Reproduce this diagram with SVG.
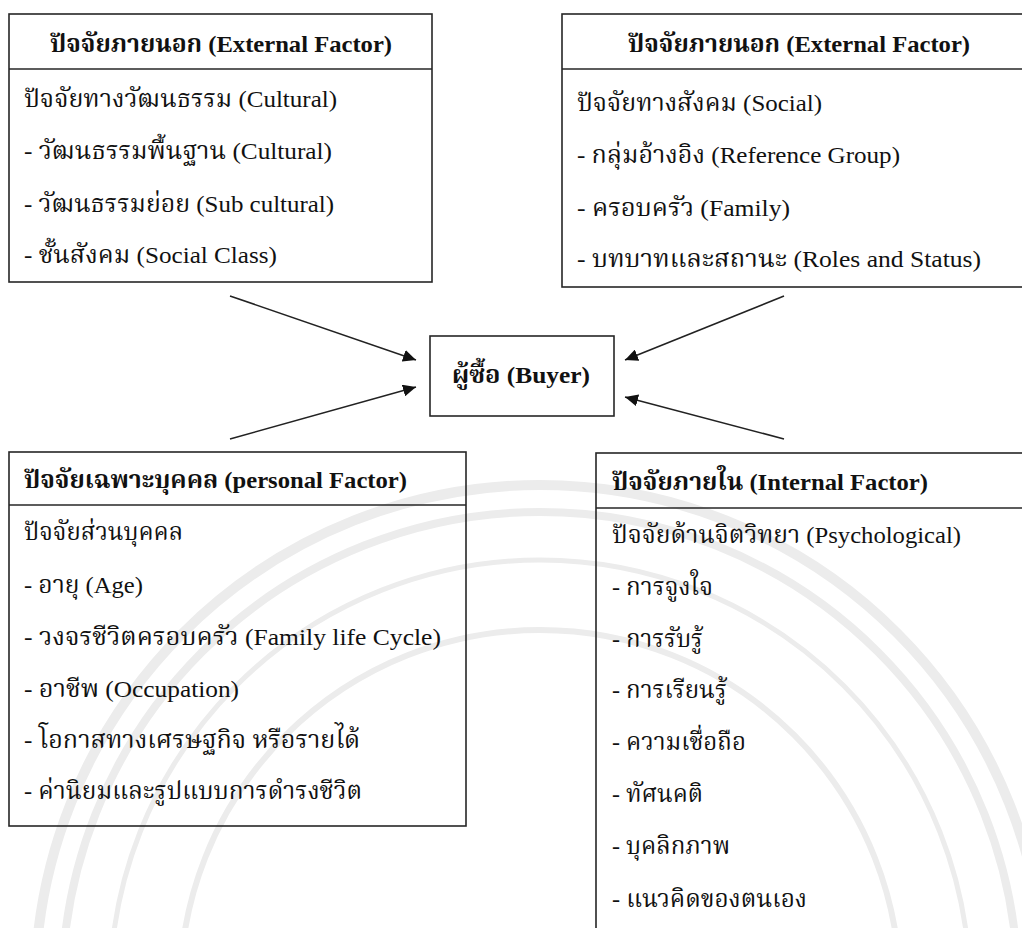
<svg xmlns="http://www.w3.org/2000/svg" width="1022" height="928" viewBox="0 0 1022 928">
<defs>
<style>
.box{fill:none;stroke:#262626;stroke-width:1.6}
.bg{fill:#ffffff}
.t{font-family:"Liberation Serif","Noto Serif Thai","Noto Sans Thai","Tlwg Typo",serif;font-size:24px;fill:#111}
.b{font-weight:bold}
.c{text-anchor:middle}
.wm{fill:none;stroke:#ececec}
.ln{stroke:#222;stroke-width:1.6;fill:none}
</style>
<marker id="ah" viewBox="0 0 10 10" refX="10" refY="5" markerWidth="13" markerHeight="12" markerUnits="userSpaceOnUse" orient="auto" preserveAspectRatio="none">
<path d="M0,0 L10,5 L0,10 z" fill="#111"/>
</marker>
</defs>
<rect x="0" y="0" width="1022" height="928" fill="#ffffff"/>
<g id="watermark">
<circle class="wm" cx="540" cy="990" r="505" stroke-width="10"/>
<circle class="wm" cx="540" cy="990" r="478" stroke-width="8"/>
<circle class="wm" cx="540" cy="990" r="430" stroke-width="5"/>
<circle class="wm" cx="540" cy="990" r="360" stroke-width="6"/>
</g>
<g id="connectors">
<line class="ln" x1="230" y1="296" x2="416" y2="360" marker-end="url(#ah)"/>
<line class="ln" x1="230" y1="439" x2="416" y2="387" marker-end="url(#ah)"/>
<line class="ln" x1="784" y1="296" x2="625" y2="360" marker-end="url(#ah)"/>
<line class="ln" x1="784" y1="439" x2="625" y2="397" marker-end="url(#ah)"/>
</g>
<g id="external-cultural">
<rect class="bg box" x="9" y="14" width="423" height="268"/>
<line class="box" x1="9" y1="69" x2="432" y2="69"/>
<text class="t b c" x="221" y="52" textLength="342" lengthAdjust="spacingAndGlyphs">ปัจจัยภายนอก (External Factor)</text>
<text class="t" x="24" y="107" textLength="313" lengthAdjust="spacingAndGlyphs">ปัจจัยทางวัฒนธรรม  (Cultural)</text>
<text class="t" x="24" y="159" textLength="308" lengthAdjust="spacingAndGlyphs">- วัฒนธรรมพื้นฐาน (Cultural)</text>
<text class="t" x="24" y="212" textLength="310" lengthAdjust="spacingAndGlyphs">- วัฒนธรรมย่อย (Sub cultural)</text>
<text class="t" x="24" y="263" textLength="253" lengthAdjust="spacingAndGlyphs">- ชั้นสังคม (Social Class)</text>
</g>
<g id="external-social">
<rect class="bg box" x="562" y="14" width="480" height="273"/>
<line class="box" x1="562" y1="69" x2="1042" y2="69"/>
<text class="t b c" x="799" y="52" textLength="342" lengthAdjust="spacingAndGlyphs">ปัจจัยภายนอก (External Factor)</text>
<text class="t" x="577" y="111" textLength="245" lengthAdjust="spacingAndGlyphs">ปัจจัยทางสังคม  (Social)</text>
<text class="t" x="577" y="163" textLength="323" lengthAdjust="spacingAndGlyphs">- กลุ่มอ้างอิง (Reference Group)</text>
<text class="t" x="577" y="216" textLength="213" lengthAdjust="spacingAndGlyphs">- ครอบครัว  (Family)</text>
<text class="t" x="577" y="267" textLength="404" lengthAdjust="spacingAndGlyphs">- บทบาทและสถานะ  (Roles and Status)</text>
</g>
<g id="buyer">
<rect class="bg box" x="430" y="336" width="184" height="80"/>
<text class="t b c" x="521" y="383" textLength="138" lengthAdjust="spacingAndGlyphs">ผู้ซื้อ (Buyer)</text>
</g>
<g id="personal">
<rect class="box" x="9" y="452" width="457" height="374"/>
<line class="box" x1="9" y1="505" x2="466" y2="505"/>
<text class="t b" x="24" y="488" textLength="383" lengthAdjust="spacingAndGlyphs">ปัจจัยเฉพาะบุคคล (personal Factor)</text>
<text class="t" x="24" y="540" textLength="159" lengthAdjust="spacingAndGlyphs">ปัจจัยส่วนบุคคล</text>
<text class="t" x="24" y="593" textLength="119" lengthAdjust="spacingAndGlyphs">- อายุ (Age)</text>
<text class="t" x="24" y="645" textLength="417" lengthAdjust="spacingAndGlyphs">- วงจรชีวิตครอบครัว  (Family life Cycle)</text>
<text class="t" x="24" y="697" textLength="215" lengthAdjust="spacingAndGlyphs">- อาชีพ (Occupation)</text>
<text class="t" x="24" y="748" textLength="336" lengthAdjust="spacingAndGlyphs">- โอกาสทางเศรษฐกิจ  หรือรายได้</text>
<text class="t" x="24" y="799" textLength="338" lengthAdjust="spacingAndGlyphs">- ค่านิยมและรูปแบบการดำรงชีวิต</text>
</g>
<g id="internal">
<rect class="box" x="596" y="453" width="446" height="500"/>
<line class="box" x1="596" y1="508" x2="1042" y2="508"/>
<text class="t b" x="612" y="490" textLength="316" lengthAdjust="spacingAndGlyphs">ปัจจัยภายใน (Internal Factor)</text>
<text class="t" x="612" y="543" textLength="349" lengthAdjust="spacingAndGlyphs">ปัจจัยด้านจิตวิทยา  (Psychological)</text>
<text class="t" x="612" y="595" textLength="101" lengthAdjust="spacingAndGlyphs">- การจูงใจ</text>
<text class="t" x="612" y="647" textLength="91" lengthAdjust="spacingAndGlyphs">- การรับรู้</text>
<text class="t" x="612" y="698" textLength="115" lengthAdjust="spacingAndGlyphs">- การเรียนรู้</text>
<text class="t" x="612" y="750" textLength="134" lengthAdjust="spacingAndGlyphs">- ความเชื่อถือ</text>
<text class="t" x="612" y="802" textLength="91" lengthAdjust="spacingAndGlyphs">- ทัศนคติ</text>
<text class="t" x="612" y="854" textLength="118" lengthAdjust="spacingAndGlyphs">- บุคลิกภาพ</text>
<text class="t" x="612" y="907" textLength="195" lengthAdjust="spacingAndGlyphs">- แนวคิดของตนเอง</text>
</g>
</svg>
